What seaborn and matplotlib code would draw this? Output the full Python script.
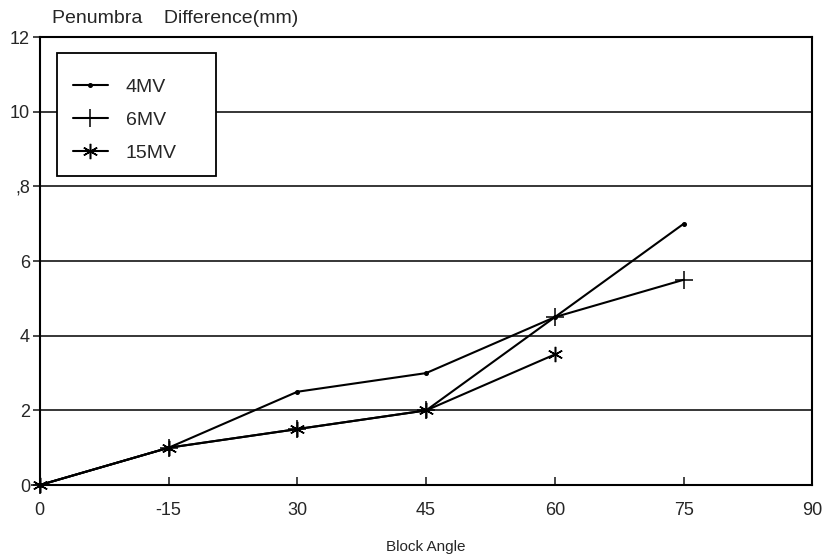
#!/usr/bin/env python3
"""Penumbra difference vs block angle for three beam energies."""

import pandas as pd
import matplotlib
matplotlib.use("Agg")
import matplotlib.pyplot as plt
from matplotlib.patches import Rectangle
import seaborn as sns

angles = [0, 15, 30, 45, 60, 75]
pen_4mv = [0, 1, 2.5, 3, 4.5, 7]
pen_6mv = [0, 1, 1.5, 2, 4.5, 5.5]
pen_15mv = [0, 1, 1.5, 2, 3.5]

x_ticks = [0, 15, 30, 45, 60, 75, 90]
x_labels = ["0", "-15", "30", "45", "60", "75", "90"]
y_ticks = [0, 2, 4, 6, 8, 10, 12]
y_labels = ["0", "2", "4", "6", ",8", "10", "12"]


def main():
    sns.set_style("white")
    plt.rcParams["font.family"] = ["Liberation Sans", "DejaVu Sans"]

    fig = plt.figure(figsize=(8.29, 5.55), dpi=100)
    ax = fig.add_axes([0.048, 0.126, 0.932, 0.807])

    for y in y_ticks[1:-1]:
        ax.axhline(y, color="black", lw=1.1, zorder=0)

    series = [
        ("4MV", pen_4mv, "o", 2.5),
        ("6MV", pen_6mv, "+", 13),
        ("15MV", pen_15mv, (6, 2, 0), 11),
    ]
    handles = []
    for name, vals, mk, ms in series:
        df = pd.DataFrame({"angle": angles[:len(vals)], "diff": vals})
        sns.lineplot(data=df, x="angle", y="diff", color="black", lw=1.5,
                     marker=mk, markersize=ms, markeredgewidth=1.1,
                     markeredgecolor="black", sort=False, ax=ax)
        line = ax.lines[-1]
        line.set_label(name)
        line.set_clip_on(False)
        handles.append(line)

    ax.set_xlim(0, 90)
    ax.set_ylim(0, 12)
    ax.set_xticks(x_ticks)
    ax.set_xticklabels(x_labels, fontsize=13)
    ax.set_yticks(y_ticks)
    ax.set_yticklabels(y_labels, fontsize=13)
    ax.tick_params(axis="x", direction="in", length=6, width=1.2, pad=12,
                   bottom=True)
    ax.tick_params(axis="y", direction="out", length=5, width=1.2, pad=2,
                   left=True)
    for s in ax.spines.values():
        s.set_color("black")
        s.set_linewidth(1.5)

    ax.set_xlabel("Block Angle", fontsize=11, labelpad=15)
    ax.set_ylabel("")
    fig.text(0.063, 0.967, "Penumbra    Difference(mm)", fontsize=14,
             ha="left", va="center")

    # legend box drawn separately so its size matches the original
    ax.add_patch(Rectangle((0.022, 0.690), 0.206, 0.274, transform=ax.transAxes,
                           facecolor="white", edgecolor="black", lw=1.3,
                           zorder=4))
    leg = ax.legend(handles=handles, loc="upper left",
                    bbox_to_anchor=(0.0427, 0.908), fontsize=14,
                    frameon=False, handlelength=1.8, labelspacing=0.78,
                    borderpad=0, handletextpad=0.93, borderaxespad=0)
    leg.set_zorder(5)

    fig.savefig("out.png", dpi=100)


if __name__ == "__main__":
    main()
